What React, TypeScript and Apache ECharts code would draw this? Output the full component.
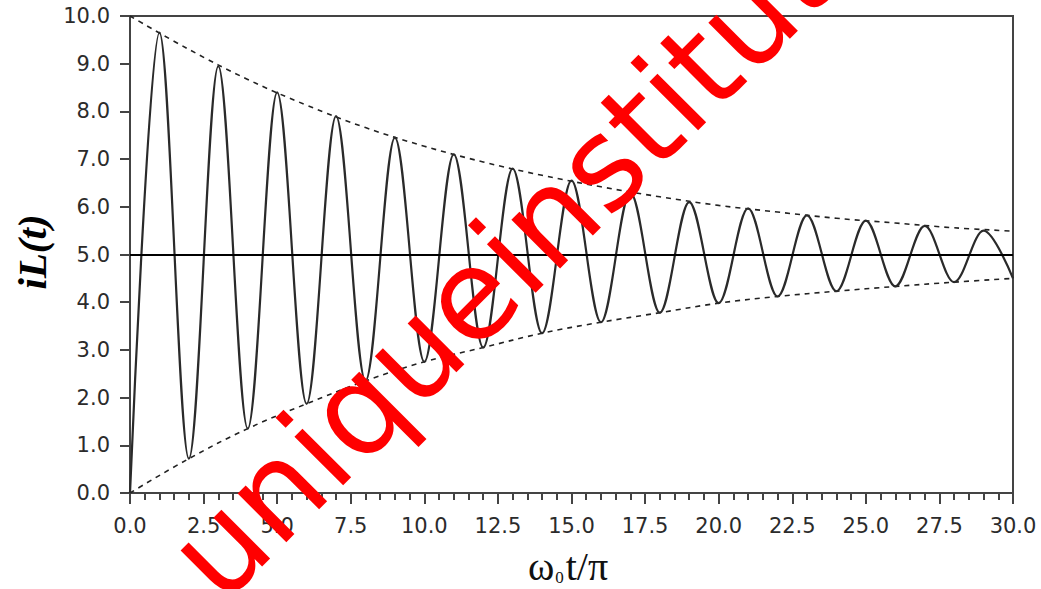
import React, { useEffect, useRef } from "react";
import * as echarts from "echarts";

// Oscillation extrema (peaks at odd x, troughs at even x)
const extremaX = [0, 1, 2, 3, 4, 5, 6, 7, 8, 9, 10, 11, 12, 13, 14, 15, 16, 17, 18, 19, 20, 21, 22, 23, 24, 25, 26, 27, 28, 29, 30];
const extremaY = [0.0, 9.65, 0.72, 8.95, 1.35, 8.4, 1.87, 7.9, 2.35, 7.45, 2.75, 7.1, 3.05, 6.8, 3.35, 6.55, 3.58, 6.3, 3.78, 6.1, 3.98, 5.97, 4.12, 5.82, 4.23, 5.71, 4.33, 5.6, 4.42, 5.5, 4.5];

// Envelopes (dashed)
const envX = [0, 2, 4, 6, 8, 10, 12, 14, 16, 18, 20, 22, 24, 26, 28, 30];
const envUpper = [10.0, 9.3, 8.67, 8.13, 7.66, 7.27, 6.94, 6.66, 6.42, 6.21, 6.03, 5.89, 5.76, 5.66, 5.56, 5.49];
const envLower = [0.0, 0.72, 1.35, 1.87, 2.35, 2.75, 3.05, 3.35, 3.58, 3.78, 3.98, 4.12, 4.23, 4.33, 4.42, 4.5];

const steadyLevel = 5.0;
const xRange = [0, 30];
const yRange = [0, 10];

const yName = "iL(t)";
const watermark = "uniqueinstitute";

export default function App() {
  const ref = useRef<HTMLDivElement>(null);
  useEffect(() => {
    if (!ref.current) return;
    const chart = echarts.init(ref.current, undefined, { renderer: "svg" });
    const labelStyle = {
      color: "#2b2b2b",
      fontFamily: "DejaVu Sans",
      fontSize: 21,
    };
    chart.setOption({
      animation: false,
      backgroundColor: "#fff",
      grid: {
        left: 130,
        right: 28,
        top: 16,
        bottom: 96,
        show: true,
        borderColor: "#444",
        borderWidth: 2,
      },
      xAxis: {
        type: "value",
        min: xRange[0],
        max: xRange[1],
        interval: 2.5,
        axisLine: { show: true, lineStyle: { color: "#444", width: 2 } },
        axisTick: { show: true, length: 11, lineStyle: { color: "#444", width: 2 } },
        minorTick: { show: true, splitNumber: 5, length: 7, lineStyle: { color: "#444", width: 2 } },
        splitLine: { show: false },
        axisLabel: { ...labelStyle, margin: 22, formatter: (v: number) => v.toFixed(1) },
      },
      yAxis: {
        type: "value",
        min: yRange[0],
        max: yRange[1],
        interval: 1,
        axisLine: { show: true, lineStyle: { color: "#444", width: 2 } },
        axisTick: { show: true, length: 10, lineStyle: { color: "#444", width: 2 } },
        splitLine: { show: false },
        axisLabel: { ...labelStyle, margin: 20, formatter: (v: number) => v.toFixed(1) },
      },
      series: [
        {
          type: "line",
          data: extremaX.map((x, i) => [x, extremaY[i]]),
          smooth: 0.34,
          smoothMonotone: "x",
          showSymbol: false,
          lineStyle: { color: "#2a2a2a", width: 2.2 },
          markLine: {
            silent: true,
            symbol: "none",
            label: { show: false },
            lineStyle: { color: "#000", width: 2, type: "solid" },
            data: [{ yAxis: steadyLevel }],
          },
          z: 3,
        },
        {
          type: "line",
          data: envX.map((x, i) => [x, envUpper[i]]),
          smooth: 0.4,
          showSymbol: false,
          lineStyle: { color: "#222", width: 1.6, type: [5, 5] },
          z: 2,
        },
        {
          type: "line",
          data: envX.map((x, i) => [x, envLower[i]]),
          smooth: 0.4,
          showSymbol: false,
          lineStyle: { color: "#222", width: 1.6, type: [5, 5] },
          z: 2,
        },
      ],
      graphic: [
        {
          type: "text",
          x: 32,
          y: 252,
          rotation: Math.PI / 2,
          style: {
            text: yName,
            x: 0,
            y: 0,
            align: "center",
            verticalAlign: "middle",
            fontFamily: "Liberation Serif",
            fontStyle: "italic",
            fontWeight: "bold",
            fontSize: 41,
            fill: "#000",
          },
        },
        {
          type: "text",
          x: 568,
          y: 566,
          style: {
            text: "{w|ω}{s|0}{w|t/π}",
            x: 0,
            y: 0,
            align: "center",
            verticalAlign: "middle",
            rich: {
              w: { fontFamily: "Liberation Serif", fontSize: 40, fill: "#111", verticalAlign: "bottom", lineHeight: 40 },
              s: { fontFamily: "Liberation Serif", fontSize: 17, fill: "#111", verticalAlign: "bottom", lineHeight: 27, padding: [0, 2, 0, 1] },
            },
          },
        },
        {
          type: "text",
          x: 528,
          y: 239,
          rotation: Math.PI / 4,
          z: 100,
          style: {
            text: watermark,
            x: 0,
            y: 0,
            align: "center",
            verticalAlign: "middle",
            fontFamily: "DejaVu Sans",
            fontSize: 126,
            fill: "#ff0000",
          },
        },
      ],
    });
    return () => chart.dispose();
  }, []);
  return <div ref={ref} style={{ width: 1041, height: 589, position: "absolute", left: 0, top: 0 }} />;
}
